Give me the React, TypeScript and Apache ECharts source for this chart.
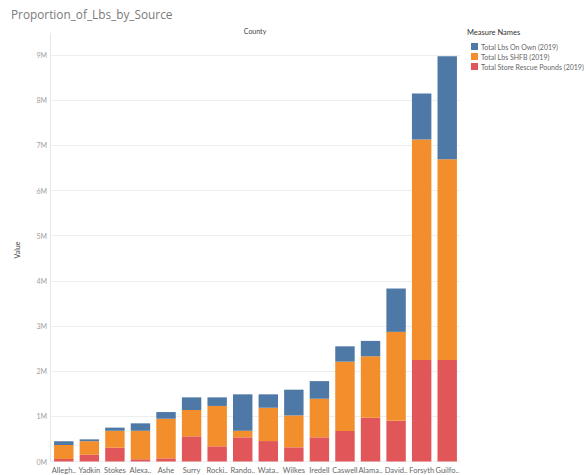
import React, { useEffect, useRef } from "react";
import * as echarts from "echarts";

const counties = ["Allegh..", "Yadkin", "Stokes", "Alexa..", "Ashe", "Surry", "Rocki..", "Rando..", "Wata..", "Wilkes", "Iredell", "Caswell", "Alama..", "David..", "Forsyth", "Guilfo.."];
const storeRescue = [55000, 150000, 305000, 50000, 70000, 557000, 336000, 535000, 453000, 314000, 535000, 675000, 970000, 900000, 2245000, 2245000];
const lbsSHFB = [310000, 300000, 375000, 630000, 877000, 583000, 894000, 145000, 737000, 706000, 855000, 1535000, 1360000, 1970000, 4885000, 4445000];
const lbsOnOwn = [85000, 40000, 70000, 165000, 148000, 280000, 190000, 807000, 297000, 570000, 390000, 340000, 340000, 960000, 1020000, 2280000];
const seriesNames = ["Total Lbs On Own (2019)", "Total Lbs SHFB (2019)", "Total Store Rescue Pounds (2019)"];
const colors = ["#4e79a7", "#f28e2b", "#e15759"];

const FONT = "Lato, 'Open Sans', sans-serif";

export default function App() {
  const ref = useRef<HTMLDivElement>(null);
  useEffect(() => {
    document.body.style.margin = "0";
    const chart = echarts.init(ref.current!, null, { renderer: "svg" });
    const mk = (name: string, data: number[], color: string) => ({
      name,
      type: "bar",
      stack: "total",
      data,
      barCategoryGap: "24%",
      itemStyle: { color },
    });
    chart.setOption({
      animation: false,
      textStyle: { fontFamily: FONT },
      title: {
        text: "Proportion_of_Lbs_by_Source",
        left: 6,
        top: 3,
        textStyle: { fontFamily: "'Open Sans', sans-serif", fontSize: 11.8, fontWeight: "normal", color: "#7a7a7a" },
      },
      legend: {
        orient: "vertical",
        left: 466,
        top: 38,
        icon: "rect",
        itemWidth: 7,
        itemHeight: 7,
        itemGap: 3,
        data: seriesNames,
        textStyle: { fontFamily: FONT, fontSize: 7, color: "#666", padding: [0, 0, 0, -2] },
      },
      grid: { left: 51, right: 126, top: 55, bottom: 13.5, outerBoundsMode: "none" },
      xAxis: {
        type: "category",
        data: counties,
        axisLine: { show: false },
        axisTick: { show: false },
        axisLabel: { interval: 0, fontSize: 7.5, color: "#666", margin: 5, fontFamily: FONT },
      },
      yAxis: {
        type: "value",
        min: 0,
        max: 9000000,
        interval: 1000000,
        axisLine: { show: false },
        axisTick: { show: false },
        splitLine: { lineStyle: { color: "#eeeeee", width: 1 } },
        axisLabel: {
          fontSize: 7,
          color: "#a0a0a0",
          margin: 4,
          fontFamily: FONT,
          formatter: (v: number) => `${v / 1000000}M`,
        },
      },
      graphic: [
        { type: "line", shape: { x1: 50.5, y1: 33, x2: 50.5, y2: 462 }, style: { stroke: "#e8e8e8", lineWidth: 1 } },
        { type: "text", x: 255, y: 31, style: { text: "County", fontSize: 7, fill: "#444", fontFamily: FONT, align: "center", verticalAlign: "middle" } },
        { type: "text", x: 17, y: 250, rotation: Math.PI / 2, style: { text: "Value", fontSize: 7, fill: "#444", fontFamily: FONT, align: "center", verticalAlign: "middle" } },
        { type: "text", x: 467, y: 32, style: { text: "Measure Names", fontSize: 7.5, fill: "#333", fontFamily: FONT, align: "left", verticalAlign: "middle" } },
      ],
      series: [
        mk(seriesNames[2], storeRescue, colors[2]),
        mk(seriesNames[1], lbsSHFB, colors[1]),
        mk(seriesNames[0], lbsOnOwn, colors[0]),
      ],
    });
    return () => chart.dispose();
  }, []);
  return <div ref={ref} style={{ width: 586, height: 475, position: "absolute", left: 0, top: 0 }} />;
}
